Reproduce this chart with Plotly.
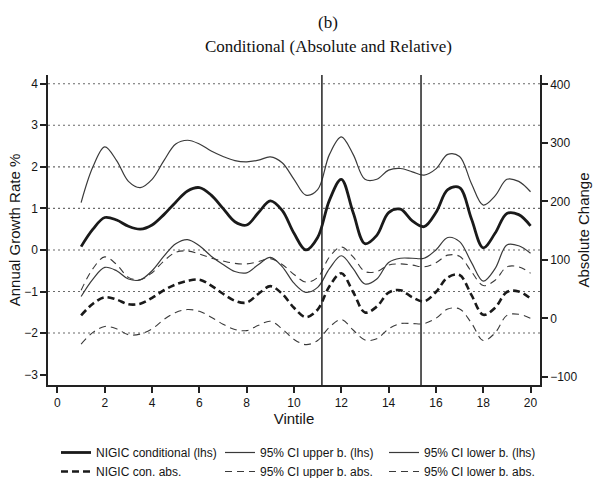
import plotly.graph_objects as go

# Vintile positions (read at half-vintile steps)
vintile = [1, 1.5, 2, 2.5, 3, 3.5, 4, 4.5, 5, 5.5, 6, 6.5, 7, 7.5, 8, 8.5, 9, 9.5, 10, 10.5,
           11, 11.5, 12, 12.5, 13, 13.5, 14, 14.5, 15, 15.5, 16, 16.5, 17, 17.5, 18, 18.5,
           19, 19.5, 20]

# Left axis (annual growth rate %)
nigic_cond = [0.08, 0.5, 0.78, 0.72, 0.57, 0.5, 0.6, 0.85, 1.15, 1.42, 1.5, 1.32, 1.0, 0.68,
              0.6, 0.9, 1.18, 0.95, 0.4, 0.0, 0.3, 1.2, 1.7, 0.9, 0.15, 0.35, 0.9, 0.98,
              0.7, 0.56, 0.9, 1.45, 1.5, 0.75, 0.05, 0.4, 0.88, 0.85, 0.58]
ci_upper_lhs = [1.14, 2.0, 2.48, 2.15, 1.65, 1.5, 1.7, 2.15, 2.55, 2.64, 2.55, 2.38, 2.25,
                2.15, 2.12, 2.16, 2.24, 2.1, 1.7, 1.32, 1.45, 2.3, 2.72, 2.3, 1.7, 1.7, 1.92,
                1.96, 1.88, 1.8, 1.95, 2.3, 2.25, 1.6, 1.08, 1.3, 1.7, 1.65, 1.4]
ci_lower_lhs = [-1.12, -0.7, -0.42, -0.5, -0.7, -0.72, -0.5, -0.15, 0.15, 0.25, 0.1, -0.15,
                -0.35, -0.52, -0.55, -0.35, -0.18, -0.4, -0.8, -1.02, -0.9, -0.45, -0.14,
                -0.45, -0.82, -0.7, -0.3, -0.2, -0.2, -0.2, 0.0, 0.3, 0.2, -0.3, -0.75,
                -0.45, 0.12, 0.1, -0.08]

# Right axis (absolute change)
nigic_abs = [5, 25, 36, 32, 24, 25, 35, 48, 58, 64, 66, 56, 42, 30, 27, 42, 55, 42, 18, 2,
             15, 55, 77, 45, 10, 20, 44, 48, 36, 29, 45, 70, 74, 40, 6, 18, 45, 46, 34]
ci_upper_abs = [48, 85, 105, 92, 70, 66, 78, 98, 113, 115, 110, 103, 98, 94, 93, 97, 102, 92,
                75, 62, 70, 105, 122, 105, 80, 80, 91, 93, 91, 88, 95, 108, 106, 80, 56, 65,
                88, 88, 77]
ci_lower_abs = [-44, -24, -14, -18, -28, -27, -18, -2, 10, 15, 12, 2, -10, -19, -21, -12, -5,
                -18, -36, -45, -38, -15, -2, -20, -37, -35, -18, -9, -9, -9, 0, 16, 16, -8,
                -38, -25, 5, 7, 0]

left_ticks = [-3, -2, -1, 0, 1, 2, 3, 4]
grid_levels = [-2, -1, 0, 1, 2, 3, 4]
right_ticks = [-100, 0, 100, 200, 300, 400]
x_ticks = [0, 2, 4, 6, 8, 10, 12, 14, 16, 18, 20]
vlines = [11.18, 15.37]

SANS = "Liberation Sans, Arial, sans-serif"
INK = "#151515"

fig = go.Figure()

def add(name, y, width, dash, color, axis):
    fig.add_trace(go.Scatter(
        x=vintile, y=y, name=name, mode="lines", yaxis=axis,
        line=dict(color=color, width=width, dash=dash, shape="spline", smoothing=1.0),
    ))

add("NIGIC conditional (lhs)", nigic_cond, 2.8, "solid", "#1a1a1a", "y")
add("95% CI upper b. (lhs)", ci_upper_lhs, 1.2, "solid", "#3a3a3a", "y")
add("95% CI lower b. (lhs)", ci_lower_lhs, 1.2, "solid", "#3a3a3a", "y")
add("NIGIC con. abs.", nigic_abs, 2.6, "7px,4px", "#1a1a1a", "y2")
add("95% CI upper b. abs.", ci_upper_abs, 1.1, "7px,5px", "#3a3a3a", "y2")
add("95% CI lower b. abs.", ci_lower_abs, 1.1, "7px,5px", "#3a3a3a", "y2")

shapes = []
for g in grid_levels:
    shapes.append(dict(type="line", xref="paper", yref="y", x0=0, x1=1, y0=g, y1=g,
                       line=dict(color="#6a6a6a", width=1.1, dash="2px,3px"), layer="below"))
for v in vlines:
    shapes.append(dict(type="line", xref="x", yref="paper", x0=v, x1=v, y0=0, y1=1,
                       line=dict(color="#222222", width=1.5)))

axis_font = dict(family=SANS, size=12, color=INK)
title_axis_font = dict(family=SANS, size=15, color=INK)

fig.update_layout(
    width=596, height=478,
    margin=dict(l=48, r=56, t=75, b=93, autoexpand=False),
    paper_bgcolor="white", plot_bgcolor="white",
    shapes=shapes,
    showlegend=True,
    legend=dict(orientation="h", xref="container", yref="container",
                x=56 / 596, xanchor="left", y=1 - 438 / 478, yanchor="top",
                entrywidth=119, font=dict(family=SANS, size=12, color=INK),
                tracegroupgap=0, itemwidth=30, bgcolor="rgba(0,0,0,0)"),
    xaxis=dict(range=[-0.4, 20.4], tickvals=x_ticks, showgrid=False, zeroline=False,
               showline=True, linecolor="#222222", linewidth=1.5,
               ticks="outside", ticklen=6, tickwidth=1.5, tickcolor="#222222",
               tickfont=axis_font,
               title=dict(text="Vintile", font=title_axis_font, standoff=0)),
    yaxis=dict(range=[-3.25, 4.21], tickvals=left_ticks, showgrid=False, zeroline=False,
               showline=True, linecolor="#222222", linewidth=1.5,
               ticks="outside", ticklen=6, tickwidth=1.5, tickcolor="#222222",
               tickfont=axis_font,
               title=dict(text="Annual Growth Rate %", font=title_axis_font, standoff=0)),
    yaxis2=dict(range=[-114, 416], tickvals=right_ticks, overlaying="y", side="right",
                showgrid=False, zeroline=False, showline=True, linecolor="#222222",
                linewidth=1.5, ticks="outside", ticklen=6, tickwidth=1.5,
                tickcolor="#222222", tickfont=axis_font,
                title=dict(text="Absolute Change", font=title_axis_font, standoff=2)),
)

title_font = dict(family="Liberation Serif, Times New Roman, serif", size=17, color="#111111")
fig.add_annotation(text="(b)", xref="paper", yref="paper", x=(328 - 48) / 492, y=1,
                   yanchor="middle", yshift=53, showarrow=False, font=title_font)
fig.add_annotation(text="Conditional (Absolute and Relative)", xref="paper", yref="paper",
                   x=(328 - 48) / 492, y=1, yanchor="middle", yshift=29, showarrow=False,
                   font=title_font)

fig.write_html("out.html", config={"displayModeBar": False},
               post_script="document.body.style.margin='0';document.body.style.padding='0';")
